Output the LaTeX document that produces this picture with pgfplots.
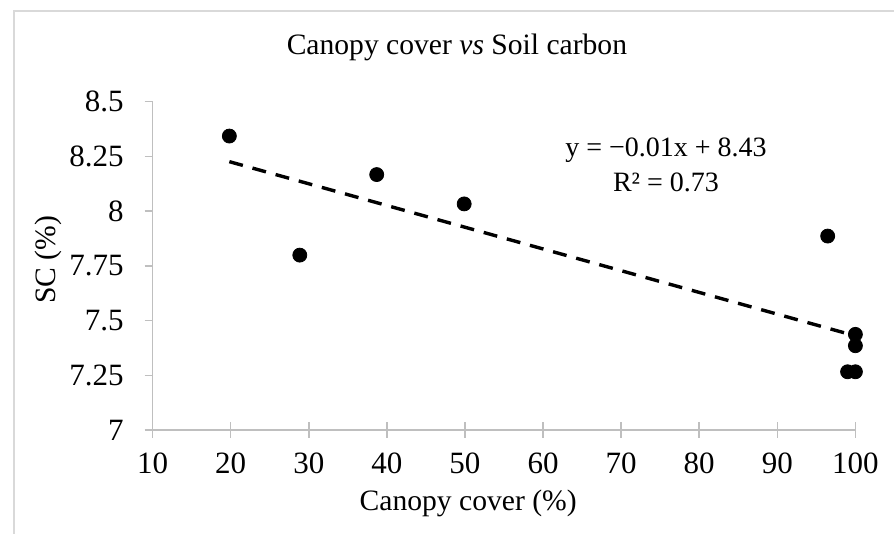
\documentclass[border=0pt]{standalone}
\usepackage{fontspec}
\setmainfont{Liberation Serif}
\usepackage{pgfplots}
\pgfplotsset{compat=1.18}
\definecolor{axgray}{HTML}{BFBFBF}
\definecolor{bordergray}{HTML}{D9D9D9}
\begin{document}
\begin{tikzpicture}
\begin{axis}[
  scale only axis, width=351.4pt, height=164.15pt,
  xmin=10, xmax=100, ymin=7, ymax=8.5,
  axis lines*=left,
  axis line style={axgray, line width=0.75pt},
  tick style={axgray, line width=0.75pt},
  tick align=outside, major tick length=4pt,
  xtick={10,20,30,40,50,60,70,80,90,100},
  xticklabels={10,20,30,40,50,60,70,80,90,100},
  ytick={7,7.25,7.5,7.75,8,8.25,8.5},
  yticklabels={7,7.25,7.5,7.75,8,8.25,8.5},
  /pgf/number format/assume math mode=true,
  ticklabel style={font=\fontsize{15.5}{18}\selectfont, text=black},
  xticklabel style={yshift=-4pt},
  yticklabel style={xshift=-7pt},
  clip=false,
]
\addplot[black, line width=1.7pt, dash pattern=on 7pt off 5pt] coordinates {(19.83,8.226) (100,7.43)};
\addplot[only marks, mark=*, mark size=3.5pt, black] coordinates {
(19.83,8.343) (28.85,7.799) (38.7,8.167) (49.9,8.033) (96.45,7.886)
(100,7.437) (100,7.385) (99,7.266) (100,7.266)};
\coordinate (LL) at (rel axis cs:0,0);
\coordinate (UR) at (rel axis cs:1,1);
\node[font=\fontsize{14.8}{18}\selectfont] at (rel axis cs:0.433,1.1666) {Canopy cover \textit{vs} Soil carbon};
\node[font=\fontsize{14.8}{18}\selectfont] at (rel axis cs:0.449,-0.2224) {Canopy cover (\%)};
\node[font=\fontsize{14.8}{18}\selectfont, rotate=90] at (rel axis cs:-0.1488,0.518) {SC (\%)};
\node[font=\fontsize{14}{17.5}\selectfont, align=center] at (rel axis cs:0.7305,0.806) {y = −0.01x + 8.43\\R² = 0.73};
\end{axis}
\begin{axis}[
  scale only axis, width=351.4pt, height=164.15pt,
  xmin=10, xmax=100, ymin=7, ymax=8.5,
  axis lines*=left,
  axis line style={draw=none},
  tick style={axgray, line width=0.75pt},
  tick align=inside, major tick length=4pt,
  xtick={10,20,30,40,50,60,70,80,90,100},
  xticklabels={},
  ytick=\empty,
]
\end{axis}
\path[use as bounding box] ([shift={(-76.3pt,-52pt)}]LL) rectangle ([shift={(19.3pt,50.85pt)}]UR);
\draw[bordergray, line width=0.75pt] ([shift={(-69.3pt,-52pt)}]LL) |- ([shift={(19.3pt,45.35pt)}]UR);
\end{tikzpicture}
\end{document}
